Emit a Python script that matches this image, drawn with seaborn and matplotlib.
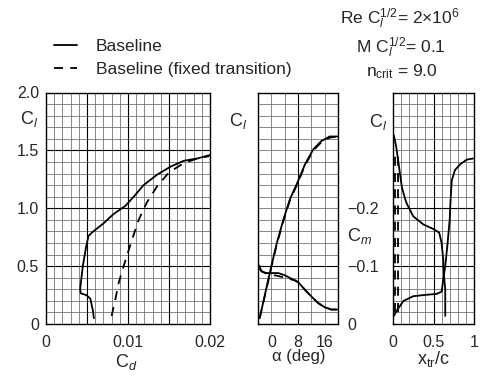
import numpy as np
import pandas as pd
import matplotlib
matplotlib.use("Agg")
import matplotlib.pyplot as plt
from matplotlib.ticker import MultipleLocator
from matplotlib.lines import Line2D
import seaborn as sns

sns.set_style("white")
plt.rcParams['font.family'] = ['Liberation Sans', 'DejaVu Sans']
plt.rcParams['mathtext.fontset'] = 'custom'
plt.rcParams['mathtext.rm'] = 'Liberation Sans'
plt.rcParams['mathtext.it'] = 'Liberation Sans:italic'
plt.rcParams['mathtext.bf'] = 'Liberation Sans:bold'

# ---- data: drag polar ----
cd_base = [0.00584, 0.00571, 0.0054, 0.0049, 0.00424, 0.00416, 0.00449, 0.0049, 0.00518, 0.0056,
           0.00702, 0.00824, 0.00967, 0.0107, 0.0119, 0.01355, 0.0152, 0.0168, 0.01845, 0.0200]
cl_polar_base = [0.05, 0.12, 0.22, 0.25, 0.265, 0.30, 0.50, 0.67, 0.76, 0.79,
                 0.87, 0.95, 1.02, 1.10, 1.20, 1.29, 1.36, 1.41, 1.43, 1.46]
cd_fixed = [0.0080, 0.00845, 0.00886, 0.00947, 0.0105, 0.0113, 0.0123, 0.01355, 0.0150, 0.0168, 0.01845, 0.0199]
cl_polar_fixed = [0.07, 0.21, 0.355, 0.50, 0.73, 0.90, 1.05, 1.19, 1.31, 1.39, 1.43, 1.45]

# ---- data: lift curve ----
alpha_base = [-3.5, -1.8, 0.0, 1.65, 3.6, 5.6, 7.8, 10.1, 12.6, 15.0, 17.5, 20.0]
cl_alpha_base = [0.05, 0.27, 0.50, 0.70, 0.90, 1.08, 1.22, 1.38, 1.51, 1.58, 1.62, 1.62]
alpha_fixed = [-3.5, -1.8, 0.0, 1.65, 3.6, 5.6, 7.8, 10.1, 12.6, 15.0, 17.5, 20.0]
cl_alpha_fixed = [0.05, 0.26, 0.49, 0.69, 0.89, 1.07, 1.21, 1.37, 1.50, 1.57, 1.61, 1.62]

# ---- data: moment curve ----
alpha_cm_base = [-3.6, -3.0, -1.8, 0.2, 2.1, 4.1, 6.1, 8.1, 10.1, 12.1, 14.1, 16.0, 18.0, 19.8]
cm_base = [-0.101, -0.091, -0.088, -0.088, -0.088, -0.084, -0.078, -0.072, -0.059, -0.047,
           -0.036, -0.029, -0.025, -0.025]
alpha_cm_fixed = [-3.6, -2.5, -1.0, 0.2, 2.0, 4.1, 6.0, 7.1, 8.1, 10.1, 12.1, 14.1, 16.0, 18.0, 19.8]
cm_fixed = [-0.095, -0.090, -0.087, -0.085, -0.083, -0.080, -0.077, -0.0755, -0.072, -0.059,
            -0.047, -0.036, -0.029, -0.025, -0.025]

# ---- data: transition location ----
xtr_upper = [0.01, 0.04, 0.07, 0.11, 0.15, 0.17, 0.25, 0.375, 0.50, 0.57, 0.60, 0.62, 0.63, 0.645, 0.645]
cl_upper = [1.63, 1.53, 1.38, 1.18, 1.08, 1.04, 0.93, 0.86, 0.82, 0.79, 0.70, 0.56, 0.41, 0.30, 0.07]
xtr_lower = [0.01, 0.05, 0.13, 0.25, 0.375, 0.54, 0.60, 0.62, 0.645, 0.67, 0.70, 0.71, 0.725, 0.765, 0.83, 0.91, 0.99]
cl_lower = [0.07, 0.12, 0.20, 0.24, 0.25, 0.26, 0.28, 0.38, 0.50, 0.67, 0.90, 1.06, 1.24, 1.33, 1.38, 1.42, 1.43]
xtr_fixed_upper = [0.03, 0.03]
xtr_fixed_lower = [0.06, 0.06]
cl_fixed_range = [0.10, 1.50]

legend_labels = ["Baseline", "Baseline (fixed transition)"]

W, H = 486, 379
fig = plt.figure(figsize=(W / 100, H / 100), dpi=100)


def px_axes(x0, x1, y0, y1):
    return fig.add_axes([x0 / W, 1 - y1 / H, (x1 - x0) / W, (y1 - y0) / H])


ax1 = px_axes(46, 210, 92.5, 324)
ax2 = px_axes(258, 338, 92.5, 324)
ax3 = px_axes(393, 474, 92.5, 324)

LW = 1.3
DASH = (5, 4)
TICK_FS = 11.5


def draw(ax, x, y, dashed=False):
    df = pd.DataFrame({"x": x, "y": y})
    sns.lineplot(data=df, x="x", y="y", ax=ax, sort=False, estimator=None,
                 color="black", lw=LW, linestyle=(0, DASH) if dashed else "-")


def style_grid(ax, xminor, yminor, xmajor_lines, ymajor_lines):
    ax.xaxis.set_minor_locator(MultipleLocator(xminor))
    ax.yaxis.set_minor_locator(MultipleLocator(yminor))
    ax.grid(which="both", color="0.45", lw=0.6)
    for v in xmajor_lines:
        ax.axvline(v, color="black", lw=0.8, zorder=1)
    for v in ymajor_lines:
        ax.axhline(v, color="black", lw=0.8, zorder=1)
    ax.tick_params(which="both", length=0, labelsize=TICK_FS)
    ax.tick_params(axis="x", pad=8)
    ax.tick_params(axis="y", pad=5)
    for s in ax.spines.values():
        s.set_color("black")
        s.set_linewidth(1.0)
    ax.set_xlabel("")
    ax.set_ylabel("")
    ax.set_axisbelow(True)


# panel 1
draw(ax1, cd_base, cl_polar_base)
draw(ax1, cd_fixed, cl_polar_fixed, dashed=True)
ax1.set_xlim(0, 0.02)
ax1.set_ylim(0, 2)
style_grid(ax1, 0.001, 0.1, [0.005, 0.01, 0.015], [0.5, 1.0, 1.5])
ax1.set_xticks([0, 0.01, 0.02])
ax1.set_xticklabels(["0", "0.01", "0.02"])
ax1.set_yticks([0, 0.5, 1.0, 1.5, 2.0])
ax1.set_yticklabels(["0", "0.5", "1.0", "1.5", "2.0"])

# panel 2
draw(ax2, alpha_base, cl_alpha_base)
draw(ax2, alpha_fixed, cl_alpha_fixed, dashed=True)
ax2.set_xlim(-4, 20)
ax2.set_ylim(0, 2)
style_grid(ax2, 4, 0.1, [8], [0.5])
ax2.set_xticks([0, 8, 16])
ax2.set_xticklabels(["0", "8", "16"])
ax2.set_yticks([])
ax2m = ax2.twinx()
draw(ax2m, alpha_cm_base, cm_base)
draw(ax2m, alpha_cm_fixed, cm_fixed, dashed=True)
ax2m.set_ylim(0, -0.4)
ax2m.set_xlim(-4, 20)
ax2m.set_yticks([0, -0.1, -0.2])
ax2m.set_yticklabels(["0", "\u22120.1", "\u22120.2"])
ax2m.tick_params(length=0, labelsize=TICK_FS, pad=7)
ax2m.set_ylabel("")
ax2m.grid(False)
for s in ax2m.spines.values():
    s.set_visible(False)

# panel 3
draw(ax3, xtr_upper, cl_upper)
draw(ax3, xtr_lower, cl_lower)
draw(ax3, xtr_fixed_upper, cl_fixed_range, dashed=True)
draw(ax3, xtr_fixed_lower, cl_fixed_range, dashed=True)
ax3.set_xlim(0, 1)
ax3.set_ylim(0, 2)
style_grid(ax3, 0.1, 0.1, [0.5], [0.5, 1.0])
ax3.set_xticks([0, 0.5, 1])
ax3.set_xticklabels(["0", "0.5", "1"])
ax3.set_yticks([])


def ftext(x, y, s, **kw):
    fig.text(x / W, 1 - y / H, s, fontsize=kw.pop("fontsize", 11), **kw)


# axis labels
ftext(29, 119, r"C$_{\mathit{l}}$", ha="center", va="center", fontsize=13)
ftext(238, 121, r"C$_{\mathit{l}}$", ha="center", va="center", fontsize=13)
ftext(378, 122, r"C$_{\mathit{l}}$", ha="center", va="center", fontsize=13)
ftext(360, 236, r"C$_{\mathit{m}}$", ha="center", va="center", fontsize=13)
ftext(126, 362, r"C$_{\mathit{d}}$", ha="center", va="center", fontsize=13)
ftext(299, 357, "\u03b1 (deg)", ha="center", va="center", fontsize=12)
ftext(433, 359, r"x$_{\mathrm{tr}}$/c", ha="center", va="center", fontsize=13)

# legend
handles = [Line2D([], [], color="black", lw=LW),
           Line2D([], [], color="black", lw=LW, linestyle=(0, DASH))]
fig.legend(handles, legend_labels, loc="upper left", bbox_to_anchor=(54 / W, 1 - 39 / H),
           frameon=False, fontsize=12.5, handlelength=1.3, handletextpad=1.1,
           labelspacing=0.45, borderpad=0, borderaxespad=0)

# conditions
ftext(400, 19, r"Re C$_{\mathit{l}}^{1/2}$= 2$\times$10$^{6}$", ha="center", va="center", fontsize=12.5)
ftext(401, 48, r"M C$_{\mathit{l}}^{1/2}$= 0.1", ha="center", va="center", fontsize=12.5)
ftext(402, 72, r"n$_{\mathrm{crit}}$ = 9.0", ha="center", va="center", fontsize=12.5)

fig.savefig("out.png", dpi=100, facecolor="white")
